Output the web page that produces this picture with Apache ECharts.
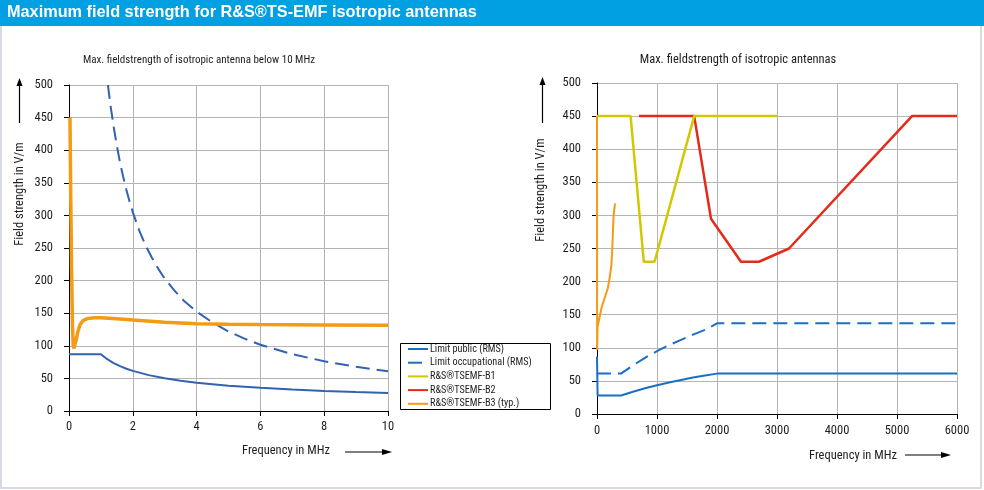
<!DOCTYPE html>
<html>
<head>
<meta charset="utf-8">
<script src="https://cdn.jsdelivr.net/npm/echarts@6/dist/echarts.min.js"></script>
<style>
html,body{margin:0;padding:0;background:#fff;}
#c{width:984px;height:490px;}
</style>
</head>
<body>
<div id="c"></div>
<script>
// ---------- data ----------
var mainTitle = 'Maximum field strength for R&S\u00AETS-EMF isotropic antennas';
var leftTitle = 'Max. fieldstrength of isotropic antenna below 10 MHz';
var rightTitle = 'Max. fieldstrength of isotropic antennas';
var yAxisTitle = 'Field strength in V/m';
var xAxisTitle = 'Frequency in MHz';
var seriesNames = ['Limit public (RMS)', 'Limit occupational (RMS)', 'R&S\u00AETSEMF-B1', 'R&S\u00AETSEMF-B2', 'R&S\u00AETSEMF-B3 (typ.)'];

// left chart (0..10 MHz)
var leftPublic = [[0,87],[1,87],[1.2,79.4],[1.4,73.5],[1.6,68.8],[1.8,64.8],[2,61.5],[2.5,55],[3,50.2],[3.5,46.5],[4,43.5],[5,38.9],[6,35.5],[7,32.9],[8,30.8],[9,29],[10,27.5]];
var leftOccupational = [[1.22,500],[1.3,469],[1.4,436],[1.5,407],[1.6,381],[1.7,359],[1.8,339],[1.9,321],[2,305],[2.2,277],[2.4,254],[2.6,235],[2.8,218],[3,203],[3.3,185],[3.6,169],[4,152.5],[4.5,135.6],[5,122],[5.5,111],[6,101.7],[7,87.1],[8,76.3],[9,67.8],[10,61]];
var leftB3 = [[0.03,450],[0.05,350],[0.08,220],[0.11,130],[0.13,102],[0.15,96],[0.18,98],[0.22,108],[0.28,122],[0.35,133],[0.45,139],[0.6,142],[0.8,143],[1,143],[1.5,141.5],[2,139.5],[3,136],[4,134],[5,133],[6,132.5],[8,132],[10,131.5]];

// right chart (0..6000 MHz)
var rightPublic = [[0,87],[1,87],[10,28],[400,28],[600,33.7],[800,38.9],[1000,43.5],[1200,47.6],[1400,51.4],[1600,55],[1800,58.3],[2000,61],[6000,61]];
var rightOccupational = [[0,61],[400,61],[600,73.5],[800,84.9],[1000,94.9],[1200,104],[1400,112],[1600,120],[1800,127],[2000,137],[6000,137]];
var rightB1 = [[0,450],[560,450],[780,230],[960,230],[1620,450],[3000,450]];
var rightB2 = [[700,450],[1620,450],[1900,295],[2400,230],[2700,230],[3200,250],[5250,450],[6000,450]];
var rightB3 = [[0,450],[2,97],[10,132],[40,145],[80,162],[130,176],[180,190],[210,205],[240,225],[255,250],[265,275],[277,300],[300,318]];

var leftXTicks = [0,2,4,6,8,10];
var rightXTicks = [0,1000,2000,3000,4000,5000,6000];
var yTicks = [0,50,100,150,200,250,300,350,400,450,500];

// ---------- styling ----------
var NARROW = '"Roboto Condensed","Open Sans Condensed","Liberation Sans",sans-serif';
var C_BLUE_L = '#3262b0';
var C_BLUE_R = '#1a6fc4';
var C_YEL = '#d2c800';
var C_RED = '#e62a1a';
var C_ORA = '#f59a14';
var GRIDC = '#b4b4b4';
var TXT = '#1e1e1e';

function yAxisDef(gi){
  return {
    type:'value', gridIndex:gi, min:yTicks[0], max:yTicks[yTicks.length-1], interval:yTicks[1]-yTicks[0],
    axisLine:{show:true,lineStyle:{color:'#000',width:1}},
    axisTick:{show:true,length:5,lineStyle:{color:'#000'}},
    axisLabel:{margin:16,color:TXT,fontSize:12.5,fontFamily:NARROW},
    splitLine:{show:true,lineStyle:{color:GRIDC,width:1}}
  };
}
function xAxisDef(gi, ticks, m){
  return {
    type:'value', gridIndex:gi, min:ticks[0], max:ticks[ticks.length-1], interval:ticks[1]-ticks[0],
    axisLine:{show:true,onZero:false,lineStyle:{color:'#000',width:1}},
    axisTick:{show:true,length:5,lineStyle:{color:'#000'}},
    axisLabel:{margin:m,color:TXT,fontSize:12.5,fontFamily:NARROW,formatter:function(v){return String(v);}},
    splitLine:{show:true,lineStyle:{color:GRIDC,width:1}}
  };
}
function line(name, data, gi, color, width, dashed, z){
  return {
    type:'line', name:name, data:data, xAxisIndex:gi, yAxisIndex:gi,
    symbol:'none', showSymbol:false, animation:false, z:z||2,
    lineStyle:{color:color, width:width, type: dashed ? [14,7] : 'solid'},
    itemStyle:{color:color}
  };
}

function arrowUp(x, yTip, yBottom){
  return [
    {type:'line', shape:{x1:x,y1:yBottom,x2:x,y2:yTip+6}, style:{stroke:'#000',lineWidth:1.2}},
    {type:'polygon', shape:{points:[[x,yTip],[x-3,yTip+8],[x+3,yTip+8]]}, style:{fill:'#000'}}
  ];
}
function arrowRight(y, xStart, xTip){
  return [
    {type:'line', shape:{x1:xStart,y1:y,x2:xTip-6,y2:y}, style:{stroke:'#000',lineWidth:1.2}},
    {type:'polygon', shape:{points:[[xTip,y],[xTip-10,y-3],[xTip-10,y+3]]}, style:{fill:'#000'}}
  ];
}

var graphics = [
  {type:'rect', shape:{x:1,y:20,width:980,height:468}, style:{fill:'none',stroke:'#c8d0d8',lineWidth:1.5}, z:-1},
  {type:'rect', shape:{x:0,y:0,width:984,height:26}, style:{fill:'#00a0e3'}},
  {type:'rect', shape:{x:400.5,y:343.5,width:150,height:66}, style:{fill:'#fff',stroke:'#000',lineWidth:1}, z:0},
  {type:'text', x:7, y:13, style:{text:mainTitle, fill:'#fff', font:'bold 16.3px "Liberation Sans",Arial,sans-serif', textVerticalAlign:'middle'}},
  {type:'text', x:199, y:60, style:{text:leftTitle, fill:TXT, font:'11px '+NARROW, textAlign:'center', textVerticalAlign:'middle'}},
  {type:'text', x:738, y:60, style:{text:rightTitle, fill:TXT, font:'12.5px '+NARROW, textAlign:'center', textVerticalAlign:'middle'}},
  {type:'text', x:20, y:194, rotation:Math.PI/2, style:{text:yAxisTitle, fill:TXT, font:'12.5px '+NARROW, textAlign:'center', textVerticalAlign:'middle'}},
  {type:'text', x:541, y:190, rotation:Math.PI/2, style:{text:yAxisTitle, fill:TXT, font:'12.5px '+NARROW, textAlign:'center', textVerticalAlign:'middle'}},
  {type:'text', x:286, y:451, style:{text:xAxisTitle, fill:TXT, font:'12.5px '+NARROW, textAlign:'center', textVerticalAlign:'middle'}},
  {type:'text', x:853, y:456, style:{text:xAxisTitle, fill:TXT, font:'12.5px '+NARROW, textAlign:'center', textVerticalAlign:'middle'}}
].concat(arrowUp(19.5,78,123), arrowUp(542.5,77,123), arrowRight(452,345,392), arrowRight(455,905,951));

var chart = echarts.init(document.getElementById('c'), null, {renderer:'canvas'});
chart.setOption({
  animation:false,
  backgroundColor:'#fff',
  grid:[
    {left:69, top:85, width:319, height:326},
    {left:597, top:83, width:360, height:331}
  ],
  xAxis:[xAxisDef(0,leftXTicks,9), xAxisDef(1,rightXTicks,10)],
  yAxis:[yAxisDef(0), yAxisDef(1)],
  legend:{
    data:seriesNames, orient:'vertical', left:407, top:344, z:10,
    itemWidth:20, itemHeight:10, itemGap:3.7,
    padding:0, borderWidth:0,
    itemStyle:{opacity:0},
    textStyle:{fontSize:10.2, lineHeight:10, color:TXT, fontFamily:NARROW, padding:[0,0,0,-3]},
    selectedMode:false
  },
  graphic:graphics,
  series:[
    line(seriesNames[0], rightPublic, 1, C_BLUE_R, 2, false, 3),
    line(seriesNames[1], rightOccupational, 1, C_BLUE_R, 2, true, 3),
    line(seriesNames[2], rightB1, 1, C_YEL, 2.5, false, 5),
    line(seriesNames[3], rightB2, 1, C_RED, 2.5, false, 4),
    line(seriesNames[4], rightB3, 1, C_ORA, 2, false, 6),
    line(seriesNames[0], leftPublic, 0, C_BLUE_L, 2, false, 3),
    line(seriesNames[1], leftOccupational, 0, C_BLUE_L, 2, true, 3),
    line(seriesNames[4], leftB3, 0, C_ORA, 3.5, false, 4)
  ]
});
</script>
</body>
</html>
